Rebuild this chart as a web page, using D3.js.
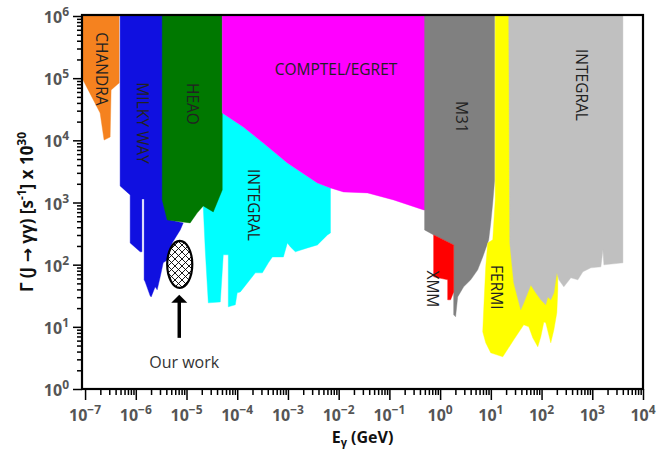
<!DOCTYPE html>
<html><head><meta charset="utf-8">
<script src="https://cdn.jsdelivr.net/npm/d3@7"></script>
<style>
body{margin:0;background:#fff}
text{font-family:"Open Sans","Noto Sans","DejaVu Sans",sans-serif}
</style>
</head><body>
<svg id="c" width="668" height="450"></svg>
<script>
// ---- axis ticks ----
const xTicks = [1e-7,1e-6,1e-5,1e-4,1e-3,1e-2,1e-1,1e0,1e1,1e2,1e3,1e4];
const xTickExp = ["−7","−6","−5","−4","−3","−2","−1","0","1","2","3","4"];
const yTicks = [1,1e1,1e2,1e3,1e4,1e5,1e6];
const yTickExp = ["0","1","2","3","4","5","6"];

// ---- regions: [E (GeV), Gamma] ----
const chandra = [[8.7e-8,1e6],[4.69e-7,1e6],[4.69e-7,8.37e4],[3.26e-7,6.46e4],[3.12e-7,1.13e4],[2.37e-7,1.01e4],[1.98e-7,2.76e4],[8.7e-8,1.01e5]];
const milkyWay = [[4.91e-7,1e6],[4.76e-6,1e6],[4.76e-6,525],[8.61e-6,470],[7.52e-6,362],[5.22e-6,224],[4.16e-6,119],[3.47e-6,107],[3.03e-6,63.7],[2.64e-6,39.4],[2.41e-6,44.0],[2.01e-6,30.3],[1.92e-6,31.5],[1.53e-6,52.9],[1.46e-6,57.0],[1.46e-6,1143],[1.32e-6,1143],[1.32e-6,161],[1.22e-6,161],[7.75e-7,224],[7.75e-7,1325],[4.91e-7,1849]];
const integralLow = [[5.07e-5,2.76e4],[1.32e-4,1.64e4],[3.27e-4,9080],[9.75e-4,4335],[3.81e-3,2065],[6.89e-3,1718],[6.89e-3,324],[6.01e-3,301],[3.81e-3,208],[2.42e-3,186],[1.40e-3,161],[1.12e-3,193],[9.75e-4,224],[8.13e-4,133],[4.93e-4,133],[4.11e-4,107],[3.13e-4,73.8],[2.28e-4,73.8],[1.15e-4,36.5],[1.00e-4,35.2],[9.16e-5,22.6],[6.67e-5,21.0],[6.67e-5,144],[5.31e-5,144],[4.64e-5,25.2],[2.69e-5,24.3],[2.34e-5,173],[2.14e-5,849],[3.0e-5,3000]];
const heao = [[3.32e-6,1e6],[5.07e-5,1e6],[5.07e-5,1596],[3.37e-5,706],[2.14e-5,881],[1.63e-5,681],[1.18e-5,470],[4.16e-6,525],[3.32e-6,1101]];
const comptel = [[5.07e-5,1e6],[0.568,1e6],[0.568,760],[0.473,760],[0.121,1101],[3.71e-2,1427],[1.24e-2,1481],[6.89e-3,1718],[3.81e-3,2065],[9.75e-4,4335],[3.27e-4,9080],[1.32e-4,1.64e4],[5.07e-5,2.76e4]];
const m31 = [[0.494,1e6],[11.9,1e6],[11.9,2306],[10.9,986],[9.95,470],[9.08,251],[8.67,224],[6.92,133],[5.51,82.5],[4.01,57.0],[2.91,44.0],[2.22,30.3],[2.02,14.5],[1.85,15.6],[1.85,208],[0.745,301],[0.494,362]];
const xmm = [[0.745,301],[1.85,208],[1.85,36.5],[1.61,27.2],[1.41,27.2],[1.41,57.0],[0.745,63.7]];
const fermi = [[12.2,1e6],[23.6,1e6],[23.6,1101],[219,1101],[209,61.4],[209,39.4],[200,16.8],[175,8.95],[152,5.53],[121,11.6],[111,12.0],[96.6,6.90],[84.3,4.77],[67.1,6.65],[56.0,10.0],[44.6,10.8],[28.3,6.18],[17.2,3.30],[9.95,3.82],[7.93,5.53],[6.92,8.32],[7.23,18.8],[7.93,92.2],[8.67,224],[10.9,251],[12.2,1101]];
const integralHigh = [[22.5,1e6],[4018,1e6],[4018,107],[1694,99.3],[1620,173],[1479,92.2],[938,88.9],[652,76.6],[520,57.0],[378,61.4],[275,44.0],[219,57.0],[200,73.8],[175,35.2],[152,27.2],[133,30.3],[121,22.6],[96.6,27.2],[76.9,35.2],[61.4,47.3],[44.6,24.3],[38.9,18.8],[28.3,51.0],[23.6,224]];

// labels: [text, E, Gamma]
const regionLabels = [
  ["CHANDRA",2.07e-7,1.41e5],["MILKY WAY",1.34e-6,1.9e4],["HEAO",1.30e-5,3.85e4],
  ["INTEGRAL",2.12e-4,914],["M31",2.66,2.38e4],["INTEGRAL",624,7.78e4],
  ["XMM",0.695,40.8],["FERMI",13.1,43.2]
];
const comptelLabel = ["COMPTEL/EGRET",8.85e-3,1.38e5];

// "Our work"
const ourWorkE = [4.16e-6,1.30e-5];
const ourWorkG = [42.4,241.6];
const arrowE = 7.2e-6;
const arrowG = [6.65,32.7];
const ourWorkText = ["Our work",9.0e-6,2.19];

const regions = [
  {pts:chandra,color:"#f5821f"},
  {pts:milkyWay,color:"#1010e0"},
  {pts:integralLow,color:"#00ffff"},
  {pts:heao,color:"#007800"},
  {pts:comptel,color:"#ff00ff"},
  {pts:m31,color:"#808080"},
  {pts:xmm,color:"#ff0000"},
  {pts:fermi,color:"#ffff00"},
  {pts:integralHigh,color:"#c0c0c0"}
];

const L=82,R=643,T=15,B=389;
const x = d3.scaleLog().domain([8.7e-8,1e4]).range([L,R]);
const y = d3.scaleLog().domain([1,1e6]).range([B,16]);
const svg = d3.select("#c");
const defs = svg.append("defs");
defs.append("clipPath").attr("id","clip").append("rect")
  .attr("x",L).attr("y",T).attr("width",R-L).attr("height",B-T);
const pat = defs.append("pattern").attr("id","hatch").attr("patternUnits","userSpaceOnUse")
  .attr("width",7).attr("height",7);
pat.append("rect").attr("width",7).attr("height",7).attr("fill","#fff");
pat.append("path").attr("d","M0,0L7,7M7,0L0,7M-1,6L1,8M6,-1L8,1M-1,1L1,-1M6,8L8,6")
  .attr("stroke","#000").attr("stroke-width",0.9);

const line = d3.line().x(d=>x(d[0])).y(d=>y(d[1]));
const g = svg.append("g").attr("clip-path","url(#clip)");
regions.forEach(r=>{
  g.append("path").attr("d",line(r.pts)+"Z").attr("fill",r.color).attr("stroke",r.color).attr("stroke-width",0.4);
});

// region labels
regionLabels.forEach(l=>{
  svg.append("text").attr("transform",`translate(${x(l[1])},${y(l[2])}) rotate(90)`)
    .attr("text-anchor","middle").attr("dy","0.36em").attr("font-size",15.5).attr("fill","#222").text(l[0]);
});
svg.append("text").attr("x",x(comptelLabel[1])).attr("y",y(comptelLabel[2])).attr("dy","0.36em")
  .attr("text-anchor","middle").attr("font-size",15.5).attr("fill","#222").text(comptelLabel[0]);

// our work ellipse
const ex0=x(ourWorkE[0]), ex1=x(ourWorkE[1]), ey0=y(ourWorkG[1]), ey1=y(ourWorkG[0]);
svg.append("ellipse").attr("cx",(ex0+ex1)/2).attr("cy",(ey0+ey1)/2)
  .attr("rx",(ex1-ex0)/2).attr("ry",(ey1-ey0)/2)
  .attr("fill","url(#hatch)").attr("stroke","#000").attr("stroke-width",2.2);
// arrow
const ax=x(arrowE), aTip=y(arrowG[1]), aBot=y(arrowG[0]);
svg.append("line").attr("x1",ax).attr("x2",ax).attr("y1",aBot).attr("y2",aTip+6)
  .attr("stroke","#000").attr("stroke-width",3.5);
svg.append("path").attr("d",`M${ax},${aTip}L${ax+8},${aTip+8}L${ax-8},${aTip+8}Z`).attr("fill","#000");
svg.append("text").attr("x",x(ourWorkText[1])).attr("y",y(ourWorkText[2]))
  .attr("text-anchor","middle").attr("font-size",16).attr("fill","#333").text(ourWorkText[0]);

// axes
const xMinor=[], yMinor=[];
xTicks.slice(0,-1).forEach(v=>{for(let k=2;k<10;k++) xMinor.push(v*k);});
yTicks.slice(0,-1).forEach(v=>{for(let k=2;k<10;k++) yMinor.push(v*k);});
const styleAxis = sel=>{sel.select(".domain").remove(); sel.selectAll("line").attr("stroke","#000").attr("stroke-width",1.5);};
svg.append("g").attr("transform",`translate(0,${B})`)
  .call(d3.axisBottom(x).tickValues(xMinor).tickSize(6).tickFormat("")).call(styleAxis);
svg.append("g").attr("transform",`translate(0,${B})`)
  .call(d3.axisBottom(x).tickValues(xTicks).tickSize(11).tickFormat("")).call(styleAxis);
svg.append("g").attr("transform",`translate(${L},0)`)
  .call(d3.axisLeft(y).tickValues(yMinor).tickSize(5).tickFormat("")).call(styleAxis);
svg.append("g").attr("transform",`translate(${L},0)`)
  .call(d3.axisLeft(y).tickValues(yTicks).tickSize(9).tickFormat("")).call(styleAxis);

// frame
svg.append("rect").attr("x",L).attr("y",T).attr("width",R-L).attr("height",B-T)
  .attr("fill","none").attr("stroke","#000").attr("stroke-width",2.2);

// tick labels
xTicks.forEach((v,i)=>{
  const t=svg.append("text").attr("x",x(v)).attr("y",421).attr("text-anchor","middle")
    .attr("font-size",16).attr("font-weight","bold").attr("fill","#555");
  t.append("tspan").text("10");
  t.append("tspan").attr("dy",-7).attr("font-size",12).text(xTickExp[i]);
});
yTicks.forEach((v,i)=>{
  const t=svg.append("text").attr("x",69).attr("y",y(v)+7).attr("text-anchor","end")
    .attr("font-size",16).attr("font-weight","bold").attr("fill","#555");
  t.append("tspan").text("10");
  t.append("tspan").attr("dy",-7).attr("font-size",12).text(yTickExp[i]);
});

// axis titles
const xt=svg.append("text").attr("x",(L+R)/2).attr("y",443).attr("text-anchor","middle")
  .attr("font-size",16).attr("font-weight","bold").attr("fill","#111");
xt.append("tspan").text("E");
xt.append("tspan").attr("dy",3).attr("font-size",11).text("γ");
xt.append("tspan").attr("dy",-3).text(" (GeV)");

const yt=svg.append("text").attr("transform",`translate(33,212) rotate(-90)`).attr("text-anchor","middle")
  .attr("font-size",17).attr("font-weight","bold").attr("fill","#111");
yt.append("tspan").text("Γ (J → γγ) [s");
yt.append("tspan").attr("dy",-7).attr("font-size",12).text("-1");
yt.append("tspan").attr("dy",7).text("] x 10");
yt.append("tspan").attr("dy",-7).attr("font-size",12).text("30");
</script>
</body></html>
